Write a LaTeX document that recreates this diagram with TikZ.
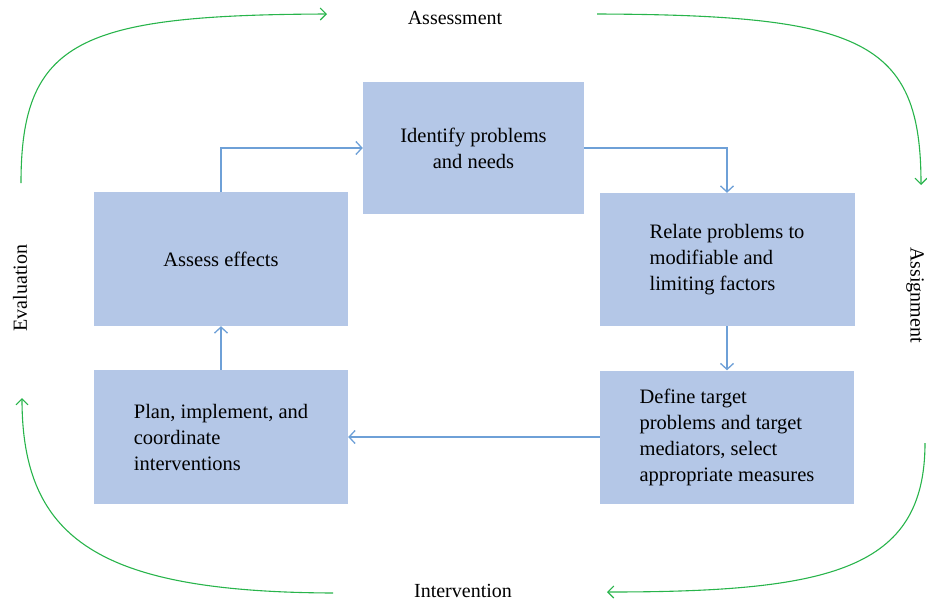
\documentclass[tikz,border=0pt]{standalone}
\usepackage{fontspec}
\setmainfont{Liberation Serif}
\usetikzlibrary{arrows.meta}
\definecolor{boxfill}{RGB}{180,199,231}
\definecolor{linkblue}{RGB}{110,160,215}
\definecolor{cyclegreen}{RGB}{40,180,75}
\begin{document}
\begin{tikzpicture}[x=1pt,y=-1pt,
  box/.style={fill=boxfill,draw=none,inner sep=0pt,align=left,font=\fontsize{20.5}{26}\selectfont},
  link/.style={draw=linkblue,line width=1.3pt,-{Straight Barb[length=6pt,width=13pt,line width=1.3pt]}},
  cycle/.style={draw=cyclegreen,line width=1.1pt,-{Straight Barb[length=6pt,width=12pt,line width=1.1pt]}},
  lab/.style={font=\fontsize{20}{22}\selectfont,inner sep=0pt}]
\useasboundingbox (0,0) rectangle (927,603);
% boxes
\node[box,minimum width=221pt,minimum height=132pt,align=center] (ident) at (473.5,148) {Identify problems\\and needs};
\node[box,minimum width=254pt,minimum height=134pt,align=center] (assess) at (221,259) {Assess effects};
\node[box,minimum width=255pt,minimum height=133pt] (relate) at (727,259.5) {Relate problems to\\modifiable and\\limiting factors};
\node[box,minimum width=254pt,minimum height=134pt] (plan) at (221,437) {Plan, implement, and\\coordinate\\interventions};
\node[box,minimum width=254pt,minimum height=133pt] (define) at (727,437) {Define target\\problems and target\\mediators, select\\appropriate measures};
% connectors
\draw[link] (assess.north) |- (ident.west);
\draw[link] (ident.east) -| (relate.north);
\draw[link] (relate.south) -- (define.north);
\draw[link] (define.west) -- (plan.east);
\draw[link] (plan.north) -- (assess.south);
% labels
\node[lab] (lassess) at (455,18) {Assessment};
\node[lab] (linterv) at (463,591) {Intervention};
\node[lab,rotate=90] (leval) at (20,288) {Evaluation};
\node[lab,rotate=-90] (lassign) at (915,295) {Assignment};
% cycle arrows
\coordinate (tl0) at (21,183);  \coordinate (tl1) at (327,14);
\coordinate (tr0) at (597,14);  \coordinate (tr1) at (921,185);
\coordinate (br0) at (925,443); \coordinate (br1) at (607,592);
\coordinate (bl0) at (333,593); \coordinate (bl1) at (22,398);
\draw[cycle] (tl0) .. controls (21,40) and (80,15) .. (tl1);
\draw[cycle] (tr0) .. controls (862,15) and (921,40) .. (tr1);
\draw[cycle] (br0) .. controls (925,570) and (830,592) .. (br1);
\draw[cycle] (bl0) .. controls (100,592) and (22,540) .. (bl1);
\end{tikzpicture}
\end{document}
